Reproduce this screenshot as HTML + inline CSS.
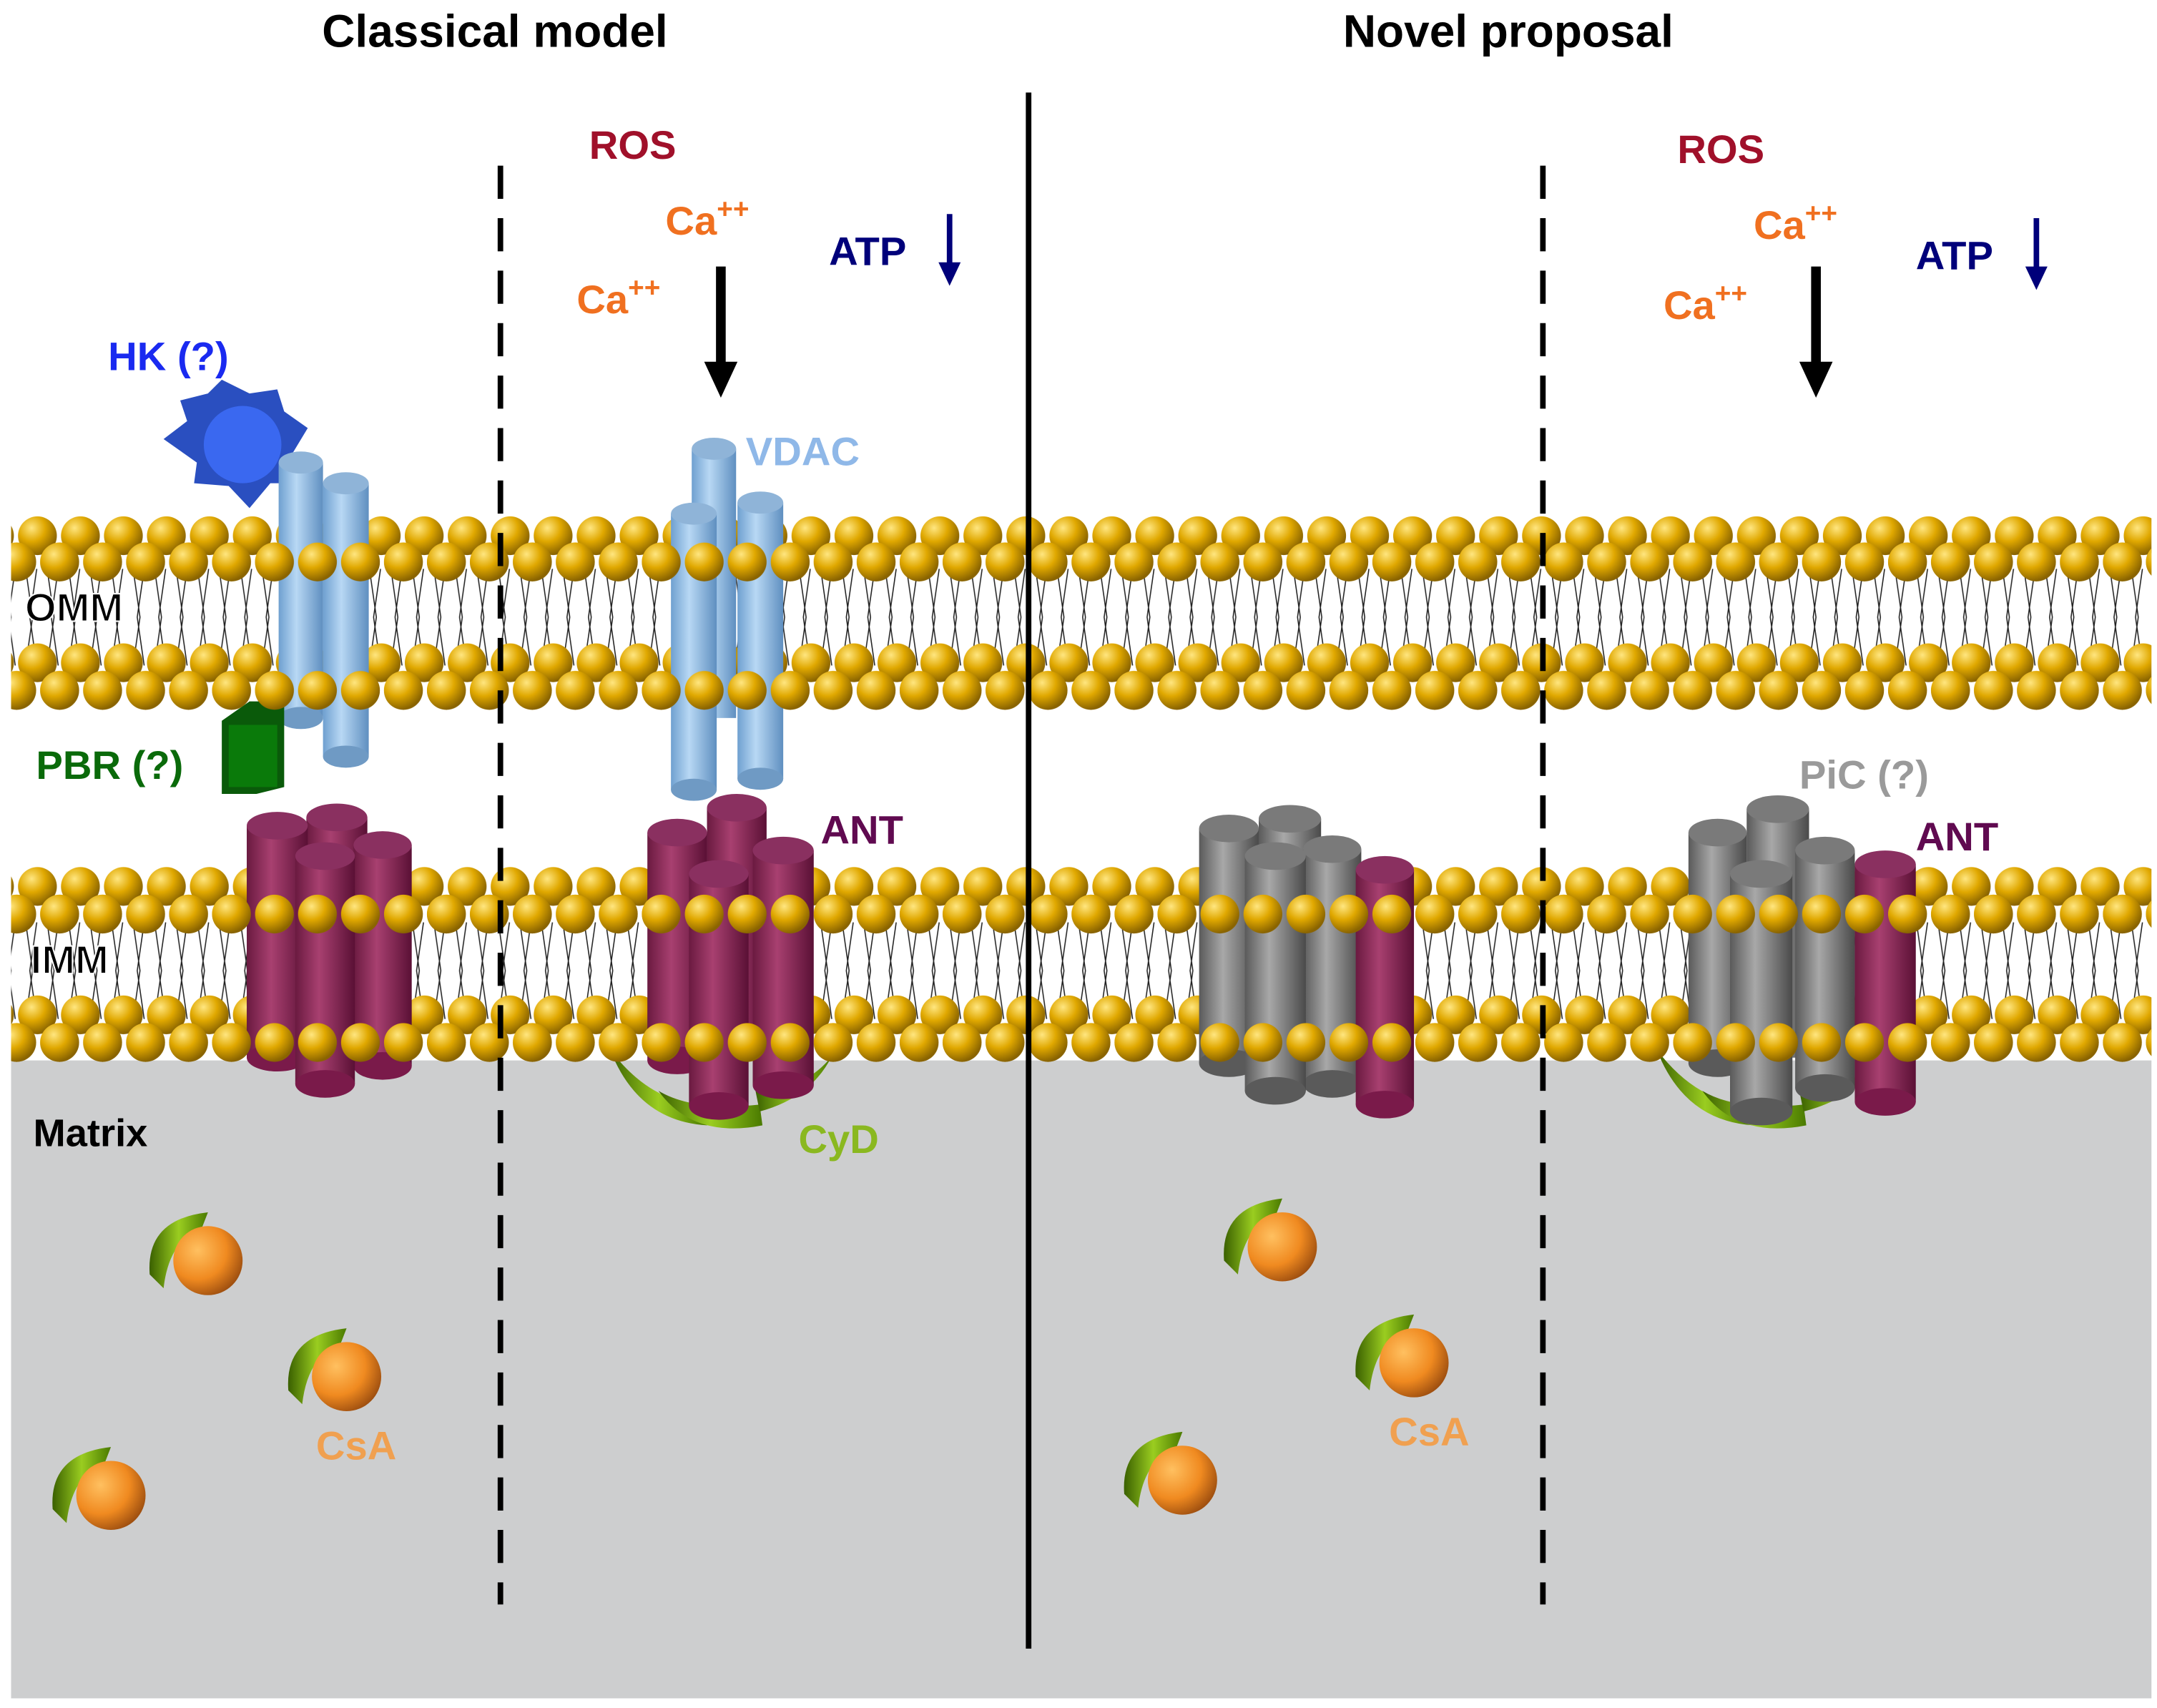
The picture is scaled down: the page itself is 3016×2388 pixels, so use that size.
<!DOCTYPE html>
<html><head><meta charset="utf-8"><style>
html,body{margin:0;padding:0;background:#fff;}
svg{display:block;}
text{font-family:"Liberation Sans",Arial,sans-serif;font-weight:bold;}
</style></head><body>
<svg width="3016" height="2388" viewBox="0 0 1556 1237" preserveAspectRatio="none" xmlns="http://www.w3.org/2000/svg">
<defs>
<radialGradient id="gold" cx="0.35" cy="0.3" r="0.7">
<stop offset="0" stop-color="#ffe680"/><stop offset="0.5" stop-color="#e0a800"/><stop offset="1" stop-color="#8a6400"/></radialGradient>
<radialGradient id="orng" cx="0.35" cy="0.35" r="0.7">
<stop offset="0" stop-color="#ffc060"/><stop offset="0.6" stop-color="#f08a20"/><stop offset="1" stop-color="#a05010"/></radialGradient>
<linearGradient id="blue" x1="0" x2="1"><stop offset="0" stop-color="#6fa0d0"/><stop offset="0.4" stop-color="#b8d8f4"/><stop offset="1" stop-color="#5f8fc0"/></linearGradient>
<linearGradient id="purp" x1="0" x2="1"><stop offset="0" stop-color="#6a1a40"/><stop offset="0.4" stop-color="#a84070"/><stop offset="1" stop-color="#5a1035"/></linearGradient>
<linearGradient id="gray" x1="0" x2="1"><stop offset="0" stop-color="#5a5a5a"/><stop offset="0.4" stop-color="#a8a8a8"/><stop offset="1" stop-color="#4a4a4a"/></linearGradient>
<linearGradient id="grn" x1="0" x2="1"><stop offset="0" stop-color="#3a6000"/><stop offset="0.5" stop-color="#9acd20"/><stop offset="1" stop-color="#4a7a00"/></linearGradient>
<pattern id="headsA" x="12" y="0" width="31" height="30" patternUnits="userSpaceOnUse"><circle cx="15" cy="15" r="14" fill="url(#gold)"/></pattern>
<pattern id="headsB" x="-3" y="0" width="31" height="30" patternUnits="userSpaceOnUse"><circle cx="15" cy="15" r="14" fill="url(#gold)"/></pattern>
<pattern id="tails" x="0" y="0" width="15.5" height="70" patternUnits="userSpaceOnUse">
<path d="M3 0 L8 35 L3 70 M11 0 L6 35 L11 70" stroke="#222" stroke-width="0.8" fill="none"/></pattern>
<g id="csa">
<path d="M-42 10 Q-45 -30 0 -35 L-5 -22 Q-28 -15 -32 20Z" fill="url(#grn)"/>
<circle cx="0" cy="0" r="25" fill="url(#orng)"/>
</g>
</defs>
<rect width="1556" height="1237" fill="#fff"/>
<rect x="8" y="768" width="1544" height="462" fill="#cdcecf"/>

<!-- OMM -->
<rect x="8" y="0" width="1544" height="70" fill="url(#tails)" transform="translate(0,412)"/>
<rect x="8" y="0" width="1544" height="30" fill="url(#headsA)" transform="translate(0,373)"/>
<rect x="8" y="0" width="1544" height="30" fill="url(#headsB)" transform="translate(0,392)"/>
<rect x="8" y="0" width="1544" height="30" fill="url(#headsA)" transform="translate(0,465)"/>
<rect x="8" y="0" width="1544" height="30" fill="url(#headsB)" transform="translate(0,485)"/>
<!-- IMM -->
<rect x="8" y="0" width="1544" height="70" fill="url(#tails)" transform="translate(0,668)"/>
<rect x="8" y="0" width="1544" height="30" fill="url(#headsA)" transform="translate(0,627)"/>
<rect x="8" y="0" width="1544" height="30" fill="url(#headsB)" transform="translate(0,647)"/>
<rect x="8" y="0" width="1544" height="30" fill="url(#headsA)" transform="translate(0,720)"/>
<rect x="8" y="0" width="1544" height="30" fill="url(#headsB)" transform="translate(0,740)"/>

<!-- HK -->
<polygon points="130,290 150,285 160,275 180,285 200,282 205,298 222,310 210,330 215,350 195,350 180,368 165,352 140,350 142,335 118,318 135,305" fill="#2a4fc0"/>
<circle cx="175" cy="322" r="28" fill="#3a68f0"/>
<rect x="201" y="335" width="32" height="185" fill="url(#blue)"/><ellipse cx="217" cy="335" rx="16" ry="8" fill="#8fb4d8"/><ellipse cx="217" cy="520" rx="16" ry="8" fill="#6f9ac4"/>
<rect x="233" y="350" width="33" height="198" fill="url(#blue)"/><ellipse cx="249.5" cy="350" rx="16.5" ry="8" fill="#8fb4d8"/><ellipse cx="249.5" cy="548" rx="16.5" ry="8" fill="#6f9ac4"/>
<!-- PBR -->
<polygon points="160,522 180,508 205,508 205,570 185,575 160,575" fill="#0a5a0a"/>
<rect x="165" y="525" width="35" height="45" fill="#0a7a0a"/>
<!-- VDAC center -->
<rect x="499" y="325" width="32" height="195" fill="url(#blue)"/><ellipse cx="515" cy="325" rx="16" ry="8" fill="#8fb4d8"/>
<rect x="484" y="372" width="33" height="200" fill="url(#blue)"/><ellipse cx="500.5" cy="372" rx="16.5" ry="8" fill="#8fb4d8"/><ellipse cx="500.5" cy="572" rx="16.5" ry="8" fill="#6f9ac4"/>
<rect x="532" y="364" width="33" height="200" fill="url(#blue)"/><ellipse cx="548.5" cy="364" rx="16.5" ry="8" fill="#8fb4d8"/><ellipse cx="548.5" cy="564" rx="16.5" ry="8" fill="#6f9ac4"/>

<!-- ANT left -->
<rect x="221" y="592" width="44" height="168" fill="url(#purp)"/><ellipse cx="243" cy="592" rx="22" ry="10" fill="#8a3060"/>
<rect x="178" y="598" width="44" height="168" fill="url(#purp)"/><ellipse cx="200" cy="598" rx="22" ry="10" fill="#8a3060"/><ellipse cx="200" cy="766" rx="22" ry="10" fill="#7a1a4a"/>
<rect x="255" y="612" width="42" height="160" fill="url(#purp)"/><ellipse cx="276" cy="612" rx="21" ry="10" fill="#8a3060"/><ellipse cx="276" cy="772" rx="21" ry="10" fill="#7a1a4a"/>
<rect x="213" y="620" width="43" height="165" fill="url(#purp)"/><ellipse cx="234.5" cy="620" rx="21.5" ry="10" fill="#8a3060"/><ellipse cx="234.5" cy="785" rx="21.5" ry="10" fill="#7a1a4a"/>

<!-- CyD center -->
<path d="M440 760 Q470 800 510 800 L510 815 Q460 812 440 760Z" fill="url(#grn)"/>
<path d="M475 790 Q500 825 550 815 L548 800 Q500 805 475 790Z" fill="url(#grn)"/>
<path d="M545 790 Q580 790 600 765 Q585 795 548 805Z" fill="url(#grn)"/>
<!-- ANT center -->
<rect x="510" y="585" width="43" height="175" fill="url(#purp)"/><ellipse cx="531.5" cy="585" rx="21.5" ry="10" fill="#8a3060"/>
<rect x="467" y="603" width="43" height="165" fill="url(#purp)"/><ellipse cx="488.5" cy="603" rx="21.5" ry="10" fill="#8a3060"/><ellipse cx="488.5" cy="768" rx="21.5" ry="10" fill="#7a1a4a"/>
<rect x="543" y="616" width="44" height="170" fill="url(#purp)"/><ellipse cx="565" cy="616" rx="22" ry="10" fill="#8a3060"/><ellipse cx="565" cy="786" rx="22" ry="10" fill="#7a1a4a"/>
<rect x="497" y="633" width="43" height="168" fill="url(#purp)"/><ellipse cx="518.5" cy="633" rx="21.5" ry="10" fill="#8a3060"/><ellipse cx="518.5" cy="801" rx="21.5" ry="10" fill="#7a1a4a"/>

<!-- Novel gray left -->
<rect x="908" y="593" width="45" height="170" fill="url(#gray)"/><ellipse cx="930.5" cy="593" rx="22.5" ry="10" fill="#7a7a7a"/>
<rect x="865" y="600" width="43" height="170" fill="url(#gray)"/><ellipse cx="886.5" cy="600" rx="21.5" ry="10" fill="#7a7a7a"/><ellipse cx="886.5" cy="770" rx="21.5" ry="10" fill="#5a5a5a"/>
<rect x="940" y="615" width="42" height="170" fill="url(#gray)"/><ellipse cx="961" cy="615" rx="21" ry="10" fill="#7a7a7a"/><ellipse cx="961" cy="785" rx="21" ry="10" fill="#5a5a5a"/>
<rect x="898" y="620" width="44" height="170" fill="url(#gray)"/><ellipse cx="920" cy="620" rx="22" ry="10" fill="#7a7a7a"/><ellipse cx="920" cy="790" rx="22" ry="10" fill="#5a5a5a"/>
<rect x="978" y="630" width="42" height="170" fill="url(#purp)"/><ellipse cx="999" cy="630" rx="21" ry="10" fill="#8a3060"/><ellipse cx="999" cy="800" rx="21" ry="10" fill="#7a1a4a"/>

<!-- CyD right -->
<path d="M1195 760 Q1225 800 1265 800 L1265 815 Q1215 812 1195 760Z" fill="url(#grn)"/>
<path d="M1228 790 Q1253 825 1303 815 L1301 800 Q1253 805 1228 790Z" fill="url(#grn)"/>
<path d="M1298 790 Q1333 790 1358 765 Q1340 795 1301 805Z" fill="url(#grn)"/>
<!-- Novel right -->
<rect x="1260" y="586" width="45" height="180" fill="url(#gray)"/><ellipse cx="1282.5" cy="586" rx="22.5" ry="10" fill="#7a7a7a"/>
<rect x="1218" y="603" width="42" height="167" fill="url(#gray)"/><ellipse cx="1239" cy="603" rx="21" ry="10" fill="#7a7a7a"/><ellipse cx="1239" cy="770" rx="21" ry="10" fill="#5a5a5a"/>
<rect x="1295" y="616" width="43" height="172" fill="url(#gray)"/><ellipse cx="1316.5" cy="616" rx="21.5" ry="10" fill="#7a7a7a"/><ellipse cx="1316.5" cy="788" rx="21.5" ry="10" fill="#5a5a5a"/>
<rect x="1338" y="626" width="44" height="172" fill="url(#purp)"/><ellipse cx="1360" cy="626" rx="22" ry="10" fill="#8a3060"/><ellipse cx="1360" cy="798" rx="22" ry="10" fill="#7a1a4a"/>
<rect x="1248" y="633" width="45" height="172" fill="url(#gray)"/><ellipse cx="1270.5" cy="633" rx="22.5" ry="10" fill="#7a7a7a"/><ellipse cx="1270.5" cy="805" rx="22.5" ry="10" fill="#5a5a5a"/>

<!-- front head rows over proteins -->
<rect x="8" y="0" width="1544" height="30" fill="url(#headsB)" transform="translate(0,392)"/>
<rect x="8" y="0" width="1544" height="30" fill="url(#headsB)" transform="translate(0,485)"/>
<rect x="8" y="0" width="1544" height="30" fill="url(#headsB)" transform="translate(0,647)"/>
<rect x="8" y="0" width="1544" height="30" fill="url(#headsB)" transform="translate(0,740)"/>

<!-- CsA -->
<use href="#csa" transform="translate(150,913)"/>
<use href="#csa" transform="translate(250,997)"/>
<use href="#csa" transform="translate(80,1083)"/>
<use href="#csa" transform="translate(925,903)"/>
<use href="#csa" transform="translate(1020,987)"/>
<use href="#csa" transform="translate(853,1072)"/>

<!-- lines -->
<line x1="361" y1="120" x2="361" y2="1162" stroke="#000" stroke-width="4" stroke-dasharray="24,14"/>
<line x1="1113" y1="120" x2="1113" y2="1162" stroke="#000" stroke-width="4" stroke-dasharray="24,14"/>
<line x1="742" y1="67" x2="742" y2="1194" stroke="#000" stroke-width="4"/>

<!-- arrows -->
<line x1="520" y1="193" x2="520" y2="265" stroke="#000" stroke-width="7"/><polygon points="508,262 532,262 520,288" fill="#000"/>
<line x1="1310" y1="193" x2="1310" y2="265" stroke="#000" stroke-width="7"/><polygon points="1298,262 1322,262 1310,288" fill="#000"/>
<line x1="685" y1="155" x2="685" y2="193" stroke="#00007a" stroke-width="4"/><polygon points="677,190 693,190 685,207" fill="#00007a"/>
<line x1="1469" y1="158" x2="1469" y2="196" stroke="#00007a" stroke-width="4"/><polygon points="1461,193 1477,193 1469,210" fill="#00007a"/>

<!-- text -->
<text x="357" y="34" font-size="33" text-anchor="middle" fill="#000">Classical model</text>
<text x="1088" y="34" font-size="33" text-anchor="middle" fill="#000">Novel proposal</text>
<text x="425" y="115" font-size="29" fill="#a0102a">ROS</text>
<text x="1210" y="118" font-size="29" fill="#a0102a">ROS</text>
<text x="480" y="170" font-size="29" fill="#f07020">Ca<tspan font-size="20" dy="-12">++</tspan></text>
<text x="416" y="227" font-size="29" fill="#f07020">Ca<tspan font-size="20" dy="-12">++</tspan></text>
<text x="1265" y="173" font-size="29" fill="#f07020">Ca<tspan font-size="20" dy="-12">++</tspan></text>
<text x="1200" y="231" font-size="29" fill="#f07020">Ca<tspan font-size="20" dy="-12">++</tspan></text>
<text x="598" y="192" font-size="29" fill="#00007a">ATP</text>
<text x="1382" y="195" font-size="29" fill="#00007a">ATP</text>
<text x="78" y="268" font-size="29" fill="#1a2af0">HK (?)</text>
<text x="538" y="337" font-size="29" fill="#8fb8e8">VDAC</text>
<text x="18" y="450" font-size="29" fill="#000" stroke="#fff" stroke-width="1">OMM</text>
<text x="26" y="564" font-size="29" fill="#0a6a0a">PBR (?)</text>
<text x="592" y="611" font-size="29" fill="#600a50">ANT</text>
<text x="1298" y="571" font-size="29" fill="#9a9a9a">PiC (?)</text>
<text x="1382" y="616" font-size="29" fill="#600a50">ANT</text>
<text x="22" y="705" font-size="29" fill="#000" stroke="#fff" stroke-width="1">IMM</text>
<text x="24" y="830" font-size="28" fill="#000">Matrix</text>
<text x="576" y="835" font-size="29" fill="#8ab820">CyD</text>
<text x="228" y="1057" font-size="29" fill="#f0a050">CsA</text>
<text x="1002" y="1047" font-size="29" fill="#f0a050">CsA</text>
</svg>
</body></html>
